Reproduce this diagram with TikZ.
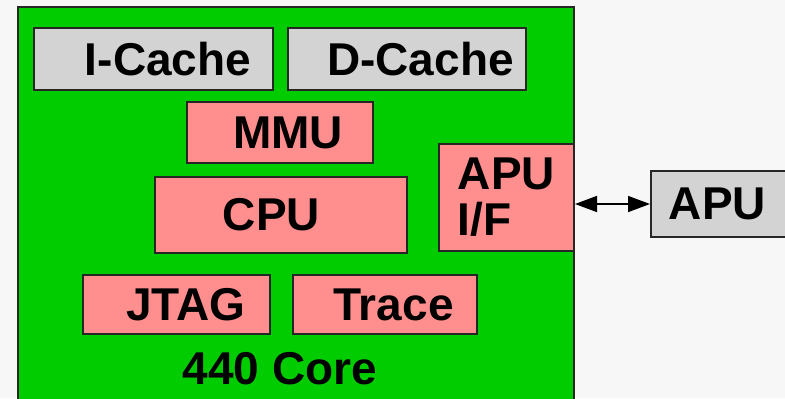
\documentclass[tikz,border=0pt]{standalone}
\usepackage{fontspec}
\setmainfont{Liberation Sans}
\usetikzlibrary{arrows.meta}
\definecolor{coregreen}{RGB}{0,204,0}
\definecolor{unitpink}{RGB}{255,142,142}
\definecolor{extgray}{RGB}{211,211,211}
\definecolor{paper}{RGB}{247,247,247}

\begin{document}
\begin{tikzpicture}[
                x=0.5pt,y=-0.5pt,
                line width=1pt,
                unit/.style={draw=black!85,fill=unitpink,text=black,inner sep=0pt},
                cache/.style={draw=black!85,fill=extgray,text=black,inner sep=0pt},
                every node/.append style={font=\fontsize{23pt}{23pt}\selectfont\bfseries}]

\useasboundingbox[fill=paper] (0,0) rectangle (785,398);
\clip (0,0) rectangle (785,398);

 % 440 core
                    \node[draw=black!85,fill=coregreen,inner sep=0pt,minimum width=278pt,minimum height=210pt] (BlockCore) at (296,217) {};
                    \node (CoreLabel) at (280,369) {440 Core};

 % caches
                    \node[cache,minimum width=119.5pt,minimum height=31pt] (BlockICache) at (153.5,59) {\hspace*{14.5pt}I-Cache}; % 1
                    \node[cache,minimum width=119pt,minimum height=31pt] (BlockDCache) at (407,59) {\hspace*{13.5pt}D-Cache}; % 2

 % units
                    \node[unit,minimum width=93pt,minimum height=30.5pt] (BlockMMU) at (280,132.5) {\hspace*{8pt}MMU};
                    \node[unit,minimum width=126pt,minimum height=38pt] (BlockCPU) at (281,215) {CPU\hspace*{9.5pt}};
                    \node[unit,align=left,minimum width=67.5pt,minimum height=53.5pt] (BlockAPUIF) at (506.5,197.5) {APU\\I/F};
                    \node[unit,minimum width=93.5pt,minimum height=29.5pt] (BlockJTAG) at (176.5,304.5) {\hspace*{9.5pt}JTAG};
                    \node[unit,minimum width=92pt,minimum height=29.5pt] (BlockTrace) at (385,304.5) {\hspace*{8.5pt}Trace};

 % outside
                    \node[cache,minimum width=79.5pt,minimum height=33pt] (BlockAPU) at (730.5,204) {APU\hspace*{13pt}};
                    \draw[{Triangle[length=11pt,width=8pt]}-{Triangle[length=11pt,width=8pt]},line width=0.75pt] (BlockAPU.west -| BlockAPUIF.east) to (BlockAPU.west);

                    \end{tikzpicture}
\end{document}
